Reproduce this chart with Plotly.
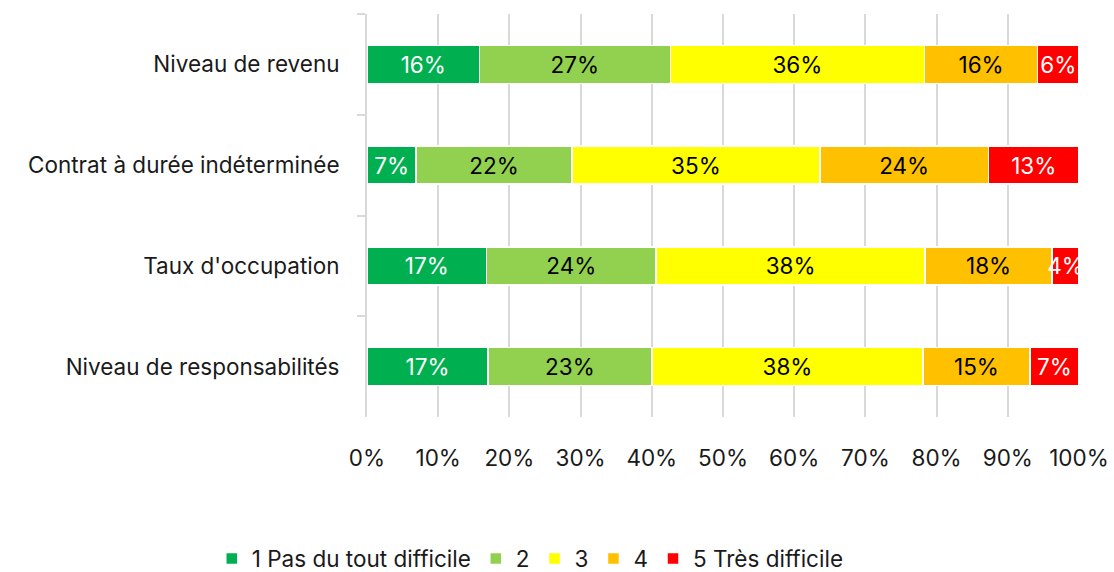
import plotly.graph_objects as go

# Survey items, listed top to bottom
categories = [
    "Niveau de revenu",
    "Contrat à durée indéterminée",
    "Taux d'occupation",
    "Niveau de responsabilités",
]

# Share of answers (%) per difficulty level, one list per level
level_names = ["1 Pas du tout difficile", "2", "3", "4", "5 Très difficile"]
level_1 = [15.8, 6.9, 16.8, 17.0]
level_2 = [26.8, 21.9, 23.8, 23.0]
level_3 = [35.7, 34.8, 37.8, 38.1]
level_4 = [15.9, 23.7, 17.8, 15.0]
level_5 = [5.8, 12.7, 3.8, 6.9]

x_tick_vals = [0, 10, 20, 30, 40, 50, 60, 70, 80, 90, 100]
x_tick_text = ["0%", "10%", "20%", "30%", "40%", "50%", "60%", "70%", "80%", "90%", "100%"]

colors = ["#00B050", "#92D050", "#FFFF00", "#FFC000", "#FF0000"]
text_colors = ["white", "black", "black", "black", "white"]
FONT = "Inter"
SIZE = 22.5

fig = go.Figure()
for name, vals, col, tcol in zip(
    level_names, [level_1, level_2, level_3, level_4, level_5], colors, text_colors
):
    fig.add_trace(
        go.Bar(
            y=categories,
            x=vals,
            name=name,
            orientation="h",
            marker=dict(color=col, line=dict(color="white", width=1.5)),
            texttemplate="%{x:.0f}%",
            textposition="inside",
            insidetextanchor="middle",
            textangle=0,
            textfont=dict(color=tcol, size=SIZE, family=FONT),
            cliponaxis=True,
            hoverinfo="skip",
        )
    )

fig.update_layout(
    width=1114,
    height=572,
    barmode="stack",
    bargap=0.623,
    margin=dict(l=367, r=35, t=14, b=155, autoexpand=False),
    paper_bgcolor="white",
    plot_bgcolor="white",
    font=dict(family=FONT, size=SIZE, color="#1a1a1a"),
    uniformtext=dict(minsize=SIZE, mode="show"),
    xaxis=dict(
        range=[0, 100],
        tickmode="array",
        tickvals=x_tick_vals,
        ticktext=x_tick_text,
        showgrid=True,
        gridcolor="#d9d9d9",
        gridwidth=2,
        zeroline=False,
        showline=False,
        ticks="",
        ticklabelstandoff=25,
        tickfont=dict(size=SIZE, color="#1a1a1a"),
        automargin=False,
        fixedrange=True,
    ),
    yaxis=dict(
        autorange="reversed",
        showline=True,
        linecolor="#d9d9d9",
        linewidth=2,
        showgrid=False,
        ticks="outside",
        tickson="boundaries",
        ticklen=8,
        tickcolor="#d9d9d9",
        tickwidth=1.5,
        ticklabelstandoff=21,
        tickfont=dict(size=SIZE, color="#1a1a1a"),
        automargin=False,
        fixedrange=True,
    ),
    legend=dict(
        orientation="h",
        xref="container",
        yref="container",
        x=0.476,
        xanchor="center",
        y=0.023,
        yanchor="middle",
        font=dict(size=SIZE, color="#1a1a1a"),
        traceorder="normal",
    ),
)

fig.write_html("out.html")
